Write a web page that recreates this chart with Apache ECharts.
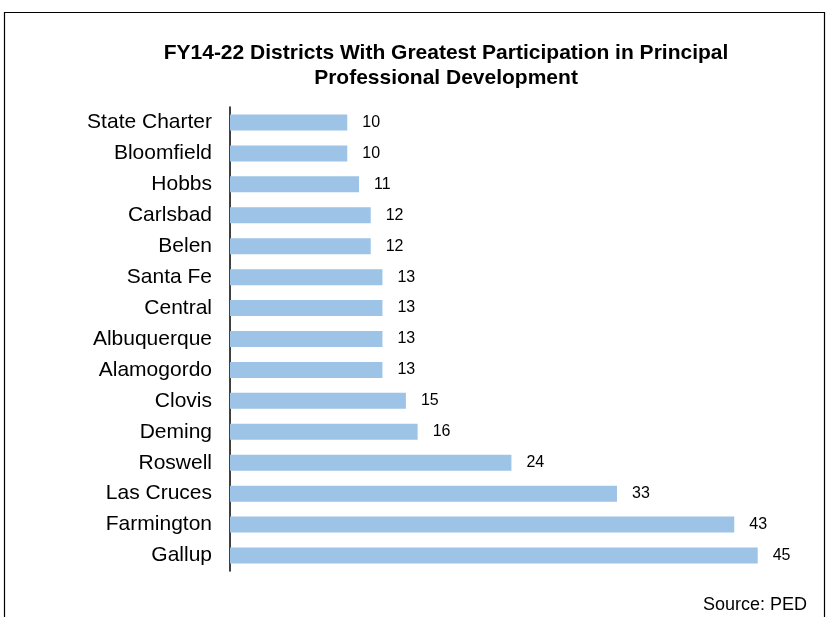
<!DOCTYPE html>
<html><head><meta charset="utf-8">
<script src="https://cdn.jsdelivr.net/npm/echarts@6/dist/echarts.min.js"></script>
<style>html,body{margin:0;padding:0;background:#fff}#c{width:827px;height:617px}</style>
</head><body><div id="c"></div>
<script>
const categories = ["State Charter","Bloomfield","Hobbs","Carlsbad","Belen","Santa Fe","Central","Albuquerque","Alamogordo","Clovis","Deming","Roswell","Las Cruces","Farmington","Gallup"];
const values = [10,10,11,12,12,13,13,13,13,15,16,24,33,43,45];
const titleText = "FY14-22 Districts With Greatest Participation in Principal\nProfessional Development";
const sourceText = "Source: PED";

const chart = echarts.init(document.getElementById('c'), null, {renderer:'canvas'});
chart.setOption({
  backgroundColor:'#fff',
  animation:false,
  title:{
    text:titleText, left:441, top:36, textAlign:'center',
    textStyle:{fontFamily:'Arial, Liberation Sans', fontWeight:'bold', fontSize:21, color:'#000', lineHeight:25}
  },
  grid:{left:230, right:69.3, top:107, height:464},
  xAxis:{type:'value', min:0, max:45, show:false},
  yAxis:{type:'category', data:categories, inverse:true,
    axisLine:{show:true, lineStyle:{color:'#000', width:1.5}},
    axisTick:{show:false},
    axisLabel:{fontFamily:'Arial, Liberation Sans', fontSize:21, color:'#000', margin:18}
  },
  series:[{type:'bar', data:values, barWidth:16,
    itemStyle:{color:'#9DC3E6'},
    label:{show:true, position:'right', distance:15, fontFamily:'Arial, Liberation Sans', fontSize:16, color:'#000'}
  }],
  graphic:[
    {type:'rect', shape:{x:4.5, y:12.5, width:820, height:700}, style:{fill:'none', stroke:'#000', lineWidth:1.2}, silent:true},
    {type:'text', right:20, top:596, style:{text:sourceText, font:'18px Arial, Liberation Sans', fill:'#000'}}
  ]
});
</script></body></html>
